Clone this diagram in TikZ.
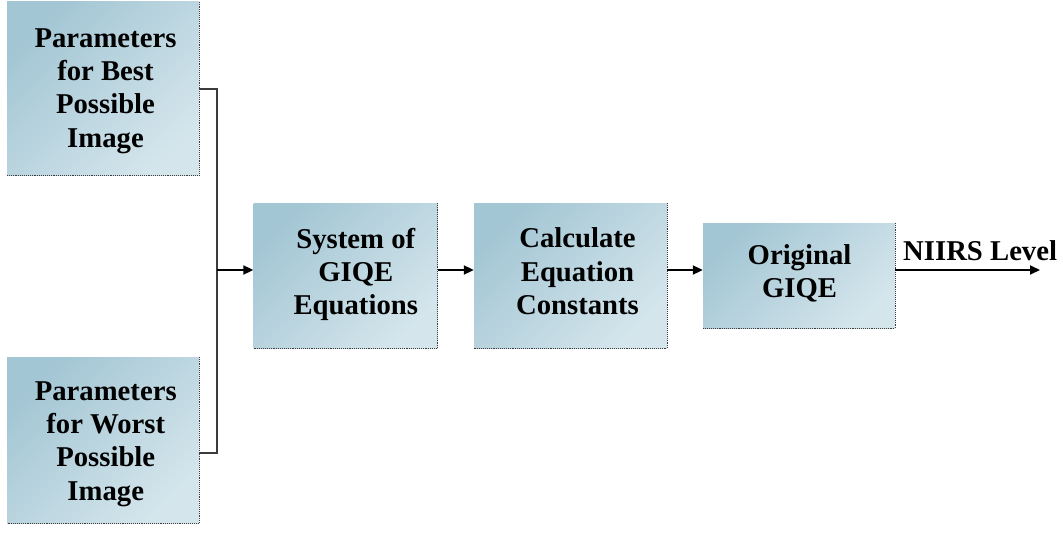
\documentclass[tikz,border=0pt]{standalone}
\usepackage{fontspec}
\setmainfont{Liberation Serif}
\usetikzlibrary{arrows.meta,calc}
\definecolor{boxA}{RGB}{163,198,212}
\definecolor{boxB}{RGB}{212,229,236}
\definecolor{edgegray}{RGB}{60,60,60}
\newcommand\btext[3]{\hspace*{#1}\raisebox{#2}[\height][\depth]{\begin{tabular}{@{}c@{}}#3\end{tabular}}}
\tikzset{
  blk/.style={rectangle, inner sep=0pt, top color=boxA, bottom color=boxB, shading angle=45,
    font=\fontsize{28.7}{33.4}\selectfont\bfseries},
  shadowedge/.style={edgegray, line width=0.9pt, densely dotted},
  conn/.style={edgegray, line width=1.3pt},
  arr/.style={black, line width=2pt, -{Triangle[length=10pt,width=9pt]}},
}
\begin{document}
\begin{tikzpicture}[x=1pt,y=-1pt]
\useasboundingbox (0,0) rectangle (1063,535);
\node[blk, minimum width=192pt, minimum height=173pt] (best) at (103,88.5) {\btext{5pt}{-2pt}{Parameters\\for Best\\Possible\\Image}};
\node[blk, minimum width=192pt, minimum height=166pt] (worst) at (103,440) {\btext{5.5pt}{-3.5pt}{Parameters\\for Worst\\Possible\\Image}};
\node[blk, minimum width=184pt, minimum height=145pt] (sys) at (345.5,275.5) {\btext{20.6pt}{0.75pt}{System of\\GIQE\\Equations}};
\node[blk, minimum width=193pt, minimum height=145pt] (calc) at (570.5,275.5) {\btext{14pt}{1pt}{Calculate\\Equation\\Constants}};
\node[blk, minimum width=192pt, minimum height=105pt] (orig) at (799,275.5) {\btext{1pt}{1pt}{Original\\GIQE}};
\foreach \n in {best,worst,sys,calc,orig}{
  \draw[shadowedge] (\n.north east) -- (\n.south east) -- (\n.south west);
}
\coordinate (j) at (217,270);
\coordinate (out) at (1040,270);
\draw[conn] ($(best.east)+(0,0.5)$) -| (j);
\draw[conn] ($(worst.east)+(0,13)$) -| (j);
\draw[arr] (j) -- (j -| sys.west);
\draw[arr] (sys.east |- j) -- (calc.west |- j);
\draw[arr] (calc.east |- j) -- (orig.west |- j);
\draw[arr] (orig.east |- j) -- (out);
\node[font=\fontsize{28.7}{33.4}\selectfont\bfseries, anchor=base west, inner sep=0pt] (lbl) at (903,260) {NIIRS Level};
\end{tikzpicture}
\end{document}
